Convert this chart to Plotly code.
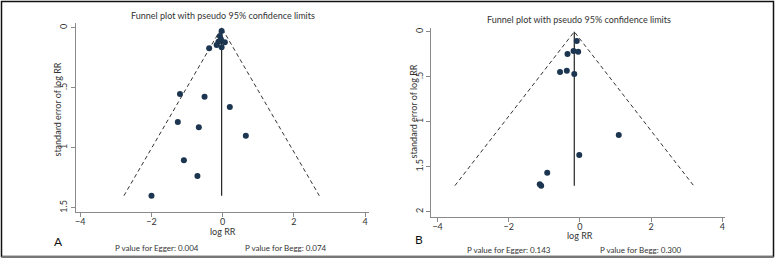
import plotly.graph_objects as go

# ---- data ----
logrr_A = [-0.03, -0.08, -0.05, -0.12, -0.17, 0.06, -0.03, -0.38,
           -1.20, -0.51, 0.20, -1.26, -0.67, 0.65, -1.09, -0.71, -2.00]
se_A = [0.028, 0.069, 0.097, 0.117, 0.144, 0.122, 0.163, 0.172,
        0.553, 0.575, 0.660, 0.786, 0.830, 0.900, 1.105, 1.236, 1.400]
pooled_A = -0.03

logrr_B = [-0.09, -0.18, -0.05, -0.35, -0.56, -0.37, -0.16, 1.09, -0.02, -0.92, -1.13, -1.09]
se_B = [0.103, 0.214, 0.222, 0.248, 0.448, 0.433, 0.470, 1.148, 1.370, 1.567, 1.696, 1.711]
pooled_B = -0.16

x_ticks = [-4, -2, 0, 2, 4]
x_ticklabels = ["\u22124", "\u22122", "0", "2", "4"]
yA_ticks = [0, 0.5, 1, 1.5]
yA_ticklabels = ["0", ".5", "1", "1.5"]
yB_ticks = [0, 0.5, 1, 1.5, 2]
yB_ticklabels = ["0", ".5", "1", "1.5", "2"]

title_text = "Funnel plot with pseudo 95% confidence limits"
egger_A, begg_A = "0.004", "0.074"
egger_B, begg_B = "0.143", "0.300"

W, H = 776, 260
FONT = "Lato"
MARK = "#1c3550"
AX = "#8a8a8a"
TXT = "#333333"

def px_x(p):
    return p / W

def px_y(p):
    return 1 - p / H

fig = go.Figure()

def add_panel(logrr, se, pooled, xa, ya):
    semax = max(se)
    # funnel dashed limits
    fig.add_trace(go.Scatter(x=[pooled - 1.96 * semax, pooled, pooled + 1.96 * semax],
                             y=[semax, 0, semax], mode="lines",
                             line=dict(color="#333333", width=1, dash="4px,3px"),
                             xaxis=xa, yaxis=ya, showlegend=False, hoverinfo="skip"))
    # pooled vertical line
    fig.add_trace(go.Scatter(x=[pooled, pooled], y=[0, semax], mode="lines",
                             line=dict(color="#222222", width=1.2),
                             xaxis=xa, yaxis=ya, showlegend=False, hoverinfo="skip"))
    fig.add_trace(go.Scatter(x=logrr, y=se, mode="markers",
                             marker=dict(color=MARK, size=6),
                             xaxis=xa, yaxis=ya, showlegend=False))

add_panel(logrr_A, se_A, pooled_A, "x", "y")
add_panel(logrr_B, se_B, pooled_B, "x2", "y2")

common_x = dict(showline=True, linecolor=AX, linewidth=1, ticks="outside", ticklen=4,
                tickcolor=AX, showgrid=False, zeroline=False, tickvals=x_ticks,
                ticktext=x_ticklabels, ticklabelstandoff=-3,
                tickfont=dict(family=FONT, size=9, color=TXT))
common_y = dict(showline=True, linecolor=AX, linewidth=1, ticks="outside", ticklen=4,
                tickcolor=AX, showgrid=False, zeroline=False, tickangle=-90,
                tickfont=dict(family=FONT, size=9, color=TXT))

fig.update_layout(
    width=W, height=H, margin=dict(l=0, r=0, t=0, b=0),
    paper_bgcolor="white", plot_bgcolor="white",
    xaxis=dict(**common_x, range=[-4.12, 4.12], domain=[px_x(76.0), px_x(369.4)], anchor="y"),
    yaxis=dict(**common_y, range=[1.533, -0.04], domain=[px_y(211.7), px_y(22.9)], anchor="x",
               tickvals=yA_ticks, ticktext=yA_ticklabels),
    xaxis2=dict(**common_x, range=[-4.18, 4.08], domain=[px_x(431.2), px_x(725.2)], anchor="y2"),
    yaxis2=dict(**common_y, range=[2.056, -0.04], domain=[px_y(216.7), px_y(28.1)], anchor="x2",
                tickvals=yB_ticks, ticktext=yB_ticklabels),
)

def ann(x, y, text, size=9, angle=0, color=TXT):
    fig.add_annotation(x=px_x(x), y=px_y(y), xref="paper", yref="paper", text=text,
                       showarrow=False, textangle=angle, xanchor="center", yanchor="middle",
                       font=dict(family=FONT, size=size, color=color))

# panel A texts
ann(223, 15, title_text, 9)
ann(56.5, 110, "standard error of log RR", 9, -90)
ann(223, 231, "log RR", 9)
ann(58, 241.5, "A", 12, color="#111111")
ann(157, 247.5, "P value for Egger: " + egger_A, 8)
ann(286, 247.5, "P value for Begg: " + begg_A, 8)

# panel B texts
ann(579, 19.5, title_text, 9)
ann(412.5, 112, "standard error of log RR", 9, -90)
ann(580, 235.5, "log RR", 9)
ann(419, 239, "B", 12, color="#111111")
ann(509, 249.5, "P value for Egger: " + egger_B, 8)
ann(641, 249.5, "P value for Begg: " + begg_B, 8)

# outer frame
fig.add_shape(type="rect", xref="paper", yref="paper", x0=px_x(1.5), x1=px_x(773.5),
              y0=px_y(256.5), y1=px_y(1.5), line=dict(color="#111111", width=1.5))
fig.add_shape(type="line", xref="paper", yref="paper", x0=px_x(1.5), x1=px_x(773.5),
              y0=px_y(257), y1=px_y(257), line=dict(color="#777777", width=2))

fig.write_html("out.html")
